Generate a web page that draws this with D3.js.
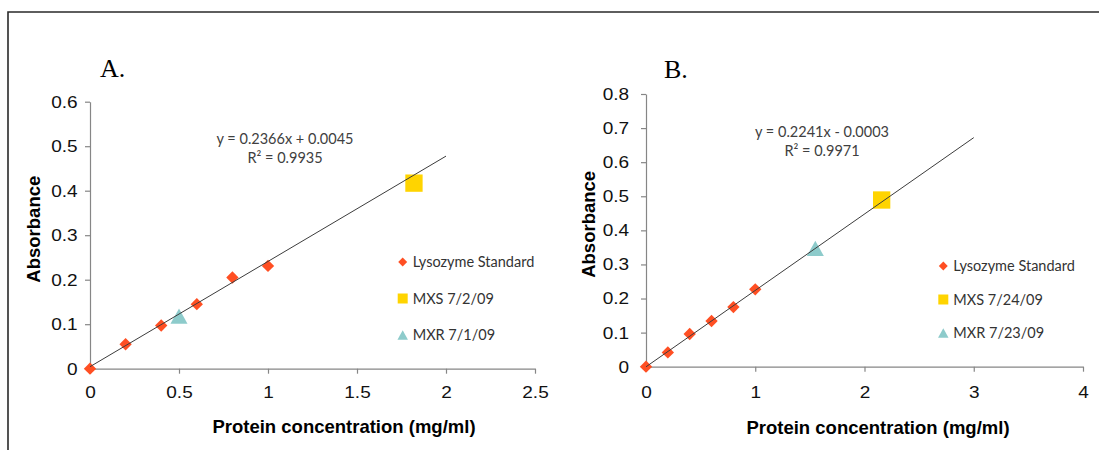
<!DOCTYPE html>
<html>
<head>
<meta charset="utf-8">
<script src="https://cdn.jsdelivr.net/npm/d3@7"></script>
<style>
  body { margin: 0; background: #fff; }
  svg { display: block; }
</style>
</head>
<body>
<div id="chart"></div>
<script>
// Lysozyme standards (mg/ml vs absorbance)
const stdConc = [0, 0.2, 0.4, 0.6, 0.8, 1.0];
const stdAbsA = [0, 0.055, 0.097, 0.145, 0.205, 0.231];
const stdAbsB = [0, 0.042, 0.096, 0.134, 0.175, 0.227];

// Samples: [concentration, absorbance]
const mxsA = [1.82, 0.417];
const mxrA = [0.5, 0.118];
const mxsB = [2.157, 0.489];
const mxrB = [1.55, 0.347];

const seriesNamesA = ["Lysozyme Standard", "MXS 7/2/09", "MXR 7/1/09"];
const seriesNamesB = ["Lysozyme Standard", "MXS 7/24/09", "MXR 7/23/09"];

// Linear fits: slope, intercept, R²
const fitA = [0.2366, 0.0045, 0.9935];
const fitB = [0.2241, -0.0003, 0.9971];
const fitEndA = 2;
const fitEndB = 3;

const xTicksA = [0, 0.5, 1, 1.5, 2, 2.5];
const yTicksA = [0, 0.1, 0.2, 0.3, 0.4, 0.5, 0.6];
const xTicksB = [0, 1, 2, 3, 4];
const yTicksB = [0, 0.1, 0.2, 0.3, 0.4, 0.5, 0.6, 0.7, 0.8];

const colors = ["#FF4F23", "#FFD400", "#8DCBCB"];
const tickStretch = 1.12;

const width = 1099, height = 450;

const svg = d3.select("#chart")
    .append("svg")
    .attr("width", width)
    .attr("height", height);

// frame around both panels
svg.append("path")
    .attr("d", "M8,450V12H1099")
    .attr("fill", "none")
    .attr("stroke", "#2a2a2a")
    .attr("stroke-width", 1.6);

// triangle centred on its bounding box
const triangle = {
    draw(ctx, size) {
        const w = Math.sqrt(size);
        const h = w * 0.9;
        ctx.moveTo(0, -h / 2);
        ctx.lineTo(w / 2, h / 2);
        ctx.lineTo(-w / 2, h / 2);
        ctx.closePath();
    }
};

function fitText(fit) {
    const sign = fit[1] < 0 ? "-" : "+";
    return `y = ${fit[0].toFixed(4)}x ${sign} ${Math.abs(fit[1]).toFixed(4)}`;
}

function drawPanel(p) {
    const g = svg.append("g");

    const x = d3.scaleLinear()
        .domain([0, d3.max(p.xTicks)])
        .range([p.left, p.right]);
    const y = d3.scaleLinear()
        .domain([0, d3.max(p.yTicks)])
        .range([p.bottom, p.top]);

    // axes
    const xAxis = g.append("g")
        .attr("transform", `translate(0,${p.bottom})`)
        .call(d3.axisBottom(x).tickValues(p.xTicks).tickFormat(d3.format("~g"))
            .tickSize(5).tickSizeOuter(0).tickPadding(p.xPad));
    const yAxis = g.append("g")
        .attr("transform", `translate(${p.left},0)`)
        .call(d3.axisLeft(y).tickValues(p.yTicks).tickFormat(d3.format("~g"))
            .tickSize(5).tickSizeOuter(0).tickPadding(p.yPad));

    [xAxis, yAxis].forEach(a => {
        a.selectAll("path, line").attr("stroke", "#868686").attr("stroke-width", 1.2);
        a.selectAll("text")
            .attr("font-family", "'Liberation Sans', Arial, sans-serif")
            .attr("font-size", 17)
            .attr("fill", "#111")
            .attr("transform", `scale(${tickStretch},1)`);
    });

    // panel letter
    g.append("text")
        .attr("x", p.letterX)
        .attr("y", p.letterY)
        .attr("font-family", "'Liberation Serif', 'Times New Roman', serif")
        .attr("font-size", 26)
        .text(p.letter);

    // axis titles
    g.append("text")
        .attr("transform", `translate(${p.yTitleX},${(p.top + p.bottom) / 2 - 6}) rotate(-90)`)
        .attr("text-anchor", "middle")
        .attr("font-family", "'Liberation Sans', Arial, sans-serif")
        .attr("font-weight", "bold")
        .attr("font-size", 18.5)
        .text("Absorbance");

    g.append("text")
        .attr("x", p.xTitleX)
        .attr("y", p.xTitleY)
        .attr("text-anchor", "middle")
        .attr("font-family", "'Liberation Sans', Arial, sans-serif")
        .attr("font-weight", "bold")
        .attr("font-size", 18.5)
        .text("Protein concentration (mg/ml)");

    // markers
    const diamond = d3.symbol().type(d3.symbolSquare).size(76);
    const bigSquare = d3.symbol().type(d3.symbolSquare).size(300);
    const bigTriangle = d3.symbol().type(triangle).size(290);

    g.selectAll(".std")
        .data(stdConc.map((c, i) => [c, p.stdAbs[i]]))
        .enter().append("path")
        .attr("class", "std")
        .attr("d", diamond)
        .attr("fill", colors[0])
        .attr("transform", d => `translate(${x(d[0])},${y(d[1])}) rotate(45)`);

    g.append("path")
        .attr("d", bigSquare)
        .attr("fill", colors[1])
        .attr("transform", `translate(${x(p.mxs[0])},${y(p.mxs[1])})`);

    g.append("path")
        .attr("d", bigTriangle)
        .attr("fill", colors[2])
        .attr("transform", `translate(${x(p.mxr[0])},${y(p.mxr[1])})`);

    // trend line on top of the points
    const line = d3.line().x(d => x(d)).y(d => y(p.fit[0] * d + p.fit[1]));
    g.append("path")
        .datum([0, p.fitEnd])
        .attr("d", line)
        .attr("fill", "none")
        .attr("stroke", "#3c3c3c")
        .attr("stroke-width", 1);

    // fit equation
    const eq = g.append("text")
        .attr("text-anchor", "middle")
        .attr("font-family", "Lato, 'Open Sans', sans-serif")
        .attr("font-size", 14.5)
        .attr("fill", "#404040");
    eq.append("tspan").attr("x", p.eqX).attr("y", p.eqY).text(fitText(p.fit));
    eq.append("tspan").attr("x", p.eqX).attr("y", p.eqY + p.eqGap).text(`R² = ${p.fit[2]}`);

    // legend
    const legendMarks = [
        d3.symbol().type(d3.symbolSquare).size(40),
        d3.symbol().type(d3.symbolSquare).size(100),
        d3.symbol().type(triangle).size(110)
    ];
    const legend = g.selectAll(".legend")
        .data(p.names)
        .enter().append("g")
        .attr("class", "legend")
        .attr("transform", (d, i) => `translate(${p.legendX},${p.legendY + i * p.legendGap})`);

    legend.append("path")
        .attr("d", (d, i) => legendMarks[i]())
        .attr("fill", (d, i) => colors[i])
        .attr("transform", (d, i) => i === 0 ? "rotate(45)" : null);

    legend.append("text")
        .attr("x", 10)
        .attr("y", 5)
        .attr("font-family", "Lato, 'Open Sans', sans-serif")
        .attr("font-size", 14.5)
        .attr("fill", "#333")
        .text(d => d);
}

drawPanel({
    letter: "A.", letterX: 100, letterY: 77,
    left: 90, right: 535, top: 101.7, bottom: 368.7,
    xTicks: xTicksA, yTicks: yTicksA, xPad: 12, yPad: 6,
    yTitleX: 40, xTitleX: 344, xTitleY: 433,
    stdAbs: stdAbsA, mxs: mxsA, mxr: mxrA,
    fit: fitA, fitEnd: fitEndA,
    eqX: 285, eqY: 144, eqGap: 19,
    names: seriesNamesA, legendX: 402.7, legendY: 262, legendGap: 36.5
});

drawPanel({
    letter: "B.", letterX: 664, letterY: 78,
    left: 646, right: 1083, top: 94, bottom: 366.7,
    xTicks: xTicksB, yTicks: yTicksB, xPad: 14, yPad: 10,
    yTitleX: 595, xTitleX: 878, xTitleY: 434,
    stdAbs: stdAbsB, mxs: mxsB, mxr: mxrB,
    fit: fitB, fitEnd: fitEndB,
    eqX: 822, eqY: 137, eqGap: 18.5,
    names: seriesNamesB, legendX: 943.3, legendY: 266, legendGap: 33.5
});
</script>
</body>
</html>
